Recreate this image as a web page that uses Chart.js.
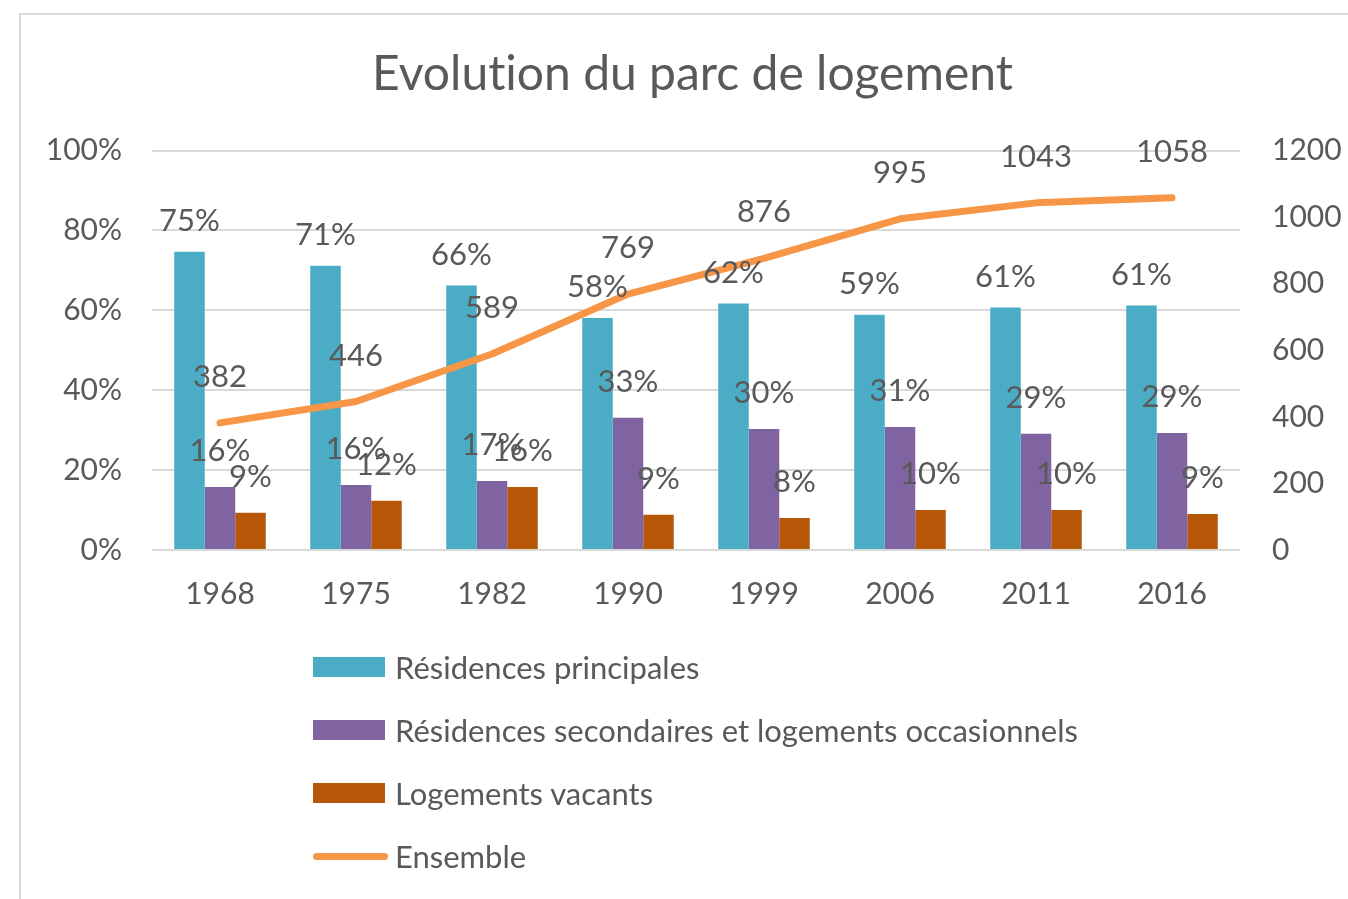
<!DOCTYPE html>
<html>
<head>
<meta charset="utf-8">
<script src="https://cdn.jsdelivr.net/npm/chart.js@4/dist/chart.umd.min.js"></script>
<style>
html,body{margin:0;padding:0;background:#fff;overflow:hidden;width:1348px;height:899px;}
#frame{position:absolute;left:19px;top:13px;width:1400px;height:1000px;border:2px solid #d9d9d9;box-sizing:border-box;}
#wrap{position:absolute;left:20px;top:14px;width:1345px;height:885px;}
#legend{position:absolute;left:0;top:0;font-family:Lato,sans-serif;font-size:31px;color:#595959;font-variant-ligatures:none;}
.item{position:absolute;left:313px;height:40px;display:flex;align-items:center;white-space:nowrap;}
.sw{display:inline-block;width:72px;height:20px;margin-right:10px;}
.ln{display:inline-block;width:75px;height:7px;border-radius:4px;margin-right:7px;}
</style>
</head>
<body>
<div id="frame"></div>
<div id="wrap"><canvas id="c" width="1345" height="885"></canvas></div>
<div id="legend"></div>
<script>
const categories = ['1968','1975','1982','1990','1999','2006','2011','2016'];
const seriesNames = ['Résidences principales','Résidences secondaires et logements occasionnels','Logements vacants','Ensemble'];
const principales = [74.7,71.2,66.2,58.1,61.7,58.9,60.7,61.2];
const secondaires = [15.8,16.3,17.3,33.1,30.3,30.8,29.1,29.3];
const vacants = [9.3,12.3,15.8,8.8,8.0,10.0,10.0,9.0];
const ensemble = [382,446,589,769,876,995,1043,1058];
const colors = ['#4BACC6','#8064A2','#B65708','#F79646'];

const FONT = 'Lato, sans-serif';
const TXT = '#595959';

const labelOffsets = [31,36,36,46];

const noLigatures = {
  id:'noLigatures',
  beforeDraw(chart){
    try { chart.ctx.textRendering = 'optimizeSpeed'; } catch(e) {}
  }
};

const dataLabels = {
  id:'dataLabels',
  afterDatasetsDraw(chart){
    const ctx = chart.ctx;
    ctx.save();
    ctx.font = '31px ' + FONT;
    ctx.fillStyle = TXT;
    ctx.textAlign = 'center';
    ctx.textBaseline = 'middle';
    chart.data.datasets.forEach((ds,i)=>{
      const meta = chart.getDatasetMeta(i);
      meta.data.forEach((el,j)=>{
        const v = ds.data[j];
        const t = ds.type === 'line' ? String(v) : Math.round(v)+'%';
        ctx.fillText(t, el.x, el.y - labelOffsets[i]);
      });
    });
    ctx.restore();
  }
};

const chart = new Chart(document.getElementById('c'), {
  data:{
    labels: categories,
    datasets:[
      {type:'bar', label:seriesNames[0], data:principales, backgroundColor:colors[0], yAxisID:'y', order:1},
      {type:'bar', label:seriesNames[1], data:secondaires, backgroundColor:colors[1], yAxisID:'y', order:1},
      {type:'bar', label:seriesNames[2], data:vacants, backgroundColor:colors[2], yAxisID:'y', order:1},
      {type:'line', label:seriesNames[3], data:ensemble, borderColor:colors[3], backgroundColor:colors[3], borderWidth:7, pointRadius:0, tension:0, borderCapStyle:'round', borderJoinStyle:'round', yAxisID:'y1', order:0}
    ]
  },
  options:{
    responsive:false,
    animation:false,
    devicePixelRatio:1,
    layout:{padding:{left:0,right:0,top:0,bottom:269}},
    datasets:{bar:{categoryPercentage:0.673, barPercentage:1}},
    plugins:{
      legend:{display:false},
      tooltip:{enabled:false},
      title:{display:true, text:'Evolution du parc de logement', color:TXT,
        font:{family:FONT, size:48, weight:'normal'}, padding:{top:32,bottom:47}}
    },
    scales:{
      x:{
        grid:{display:false, drawTicks:false},
        border:{display:false},
        ticks:{color:TXT, font:{family:FONT,size:30}, padding:26},
        afterFit(s){ s.height = 80; }
      },
      y:{
        position:'left', min:0, max:100,
        grid:{color:'#D9D9D9', lineWidth:2, drawTicks:false},
        border:{display:false},
        ticks:{stepSize:20, color:TXT, font:{family:FONT,size:30}, padding:30, callback:v=>v+'%'},
        afterFit(s){ s.width = 132; }
      },
      y1:{
        position:'right', min:0, max:1200,
        grid:{display:false, drawTicks:false},
        border:{display:false},
        ticks:{stepSize:200, color:TXT, font:{family:FONT,size:30}, padding:32, callback:v=>String(v)},
        afterFit(s){ s.width = 125; }
      }
    }
  },
  plugins:[noLigatures, dataLabels]
});

// legend built from the chart's datasets
const rowCenters = [667,730,793,856];
const lg = document.getElementById('legend');
chart.data.datasets.forEach((ds,i)=>{
  const it = document.createElement('div');
  it.className = 'item';
  it.style.top = (rowCenters[i]-20)+'px';
  const sw = document.createElement('span');
  if (ds.type === 'line') { sw.className='ln'; sw.style.background = ds.borderColor; }
  else { sw.className='sw'; sw.style.background = ds.backgroundColor; }
  it.appendChild(sw);
  const tx = document.createElement('span');
  tx.textContent = ds.label;
  it.appendChild(tx);
  lg.appendChild(it);
});
</script>
</body>
</html>
